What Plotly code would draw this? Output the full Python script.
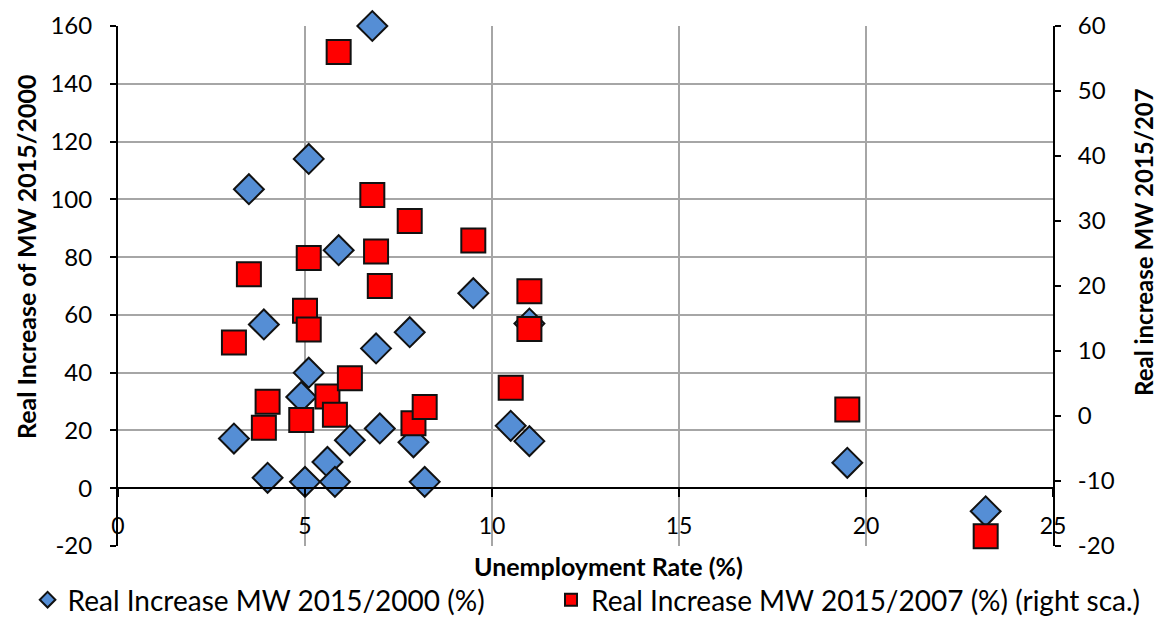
import plotly.graph_objects as go

# Data
unemployment = [3.1, 3.5, 3.9, 4.0, 4.9, 5.0, 5.1, 5.1, 5.6, 5.8, 5.9, 6.2,
                6.8, 6.9, 7.0, 7.8, 7.9, 8.2, 9.5, 10.5, 11.0, 11.0, 19.5, 23.2]
mw_2015_2000 = [17.2, 103.5, 56.7, 3.6, 31.6, 2.2, 114.0, 40.0, 9.1, 2.2, 82.4, 16.6,
                160.0, 48.4, 20.7, 54.0, 15.9, 2.2, 67.5, 21.6, 57.0, 16.3, 8.8, -8.0]
mw_2015_2007 = [11.3, 21.8, -1.8, 2.2, -0.6, 16.2, 24.3, 13.3, 3.0, 0.2, 56.0, 5.8,
                34.0, 25.3, 20.0, 30.0, -1.1, 1.4, 27.0, 4.35, 19.2, 13.4, 1.0, -18.5]

left_ticks = [-20, 0, 20, 40, 60, 80, 100, 120, 140, 160]
left_ticktext = ["-20", "0", "20", "40", "60", "80", "100", "120", "140", "160"]
right_ticks = [-20, -10, 0, 10, 20, 30, 40, 50, 60]
right_ticktext = ["-20", "-10", "0", "10", "20", "30", "40", "50", "60"]

name_blue = "Real Increase MW 2015/2000 (%)"
name_red = "Real Increase MW 2015/2007 (%) (right sca.)"
title_left = "Real Increase of MW 2015/2000"
title_right = "Real increase MW 2015/207"
title_x = "Unemployment Rate (%)"

FONT = "Lato, Carlito, Calibri, sans-serif"
GRID = "#A6A6A6"

fig = go.Figure()
fig.add_trace(go.Scatter(
    x=unemployment, y=mw_2015_2000, mode="markers", name=name_blue,
    cliponaxis=False, legend="legend",
    marker=dict(symbol="diamond", size=23, color="#558ED5",
                line=dict(color="#111111", width=2)),
    yaxis="y", xaxis="x"))
fig.add_trace(go.Scatter(
    x=unemployment, y=mw_2015_2007, mode="markers", name=name_red,
    cliponaxis=False, legend="legend2",
    marker=dict(symbol="square", size=24, color="#FF0000",
                line=dict(color="#111111", width=2)),
    yaxis="y2", xaxis="x"))

legend_style = dict(orientation="h", xref="paper", yref="paper", xanchor="left",
                    y=-0.1038, yanchor="middle", font=dict(size=28, family=FONT),
                    bgcolor="rgba(0,0,0,0)", itemsizing="constant")

fig.update_layout(
    width=1159, height=617,
    margin=dict(l=118, r=106, t=26, b=71, autoexpand=False),
    paper_bgcolor="white", plot_bgcolor="white",
    font=dict(family=FONT, size=22, color="black"),
    showlegend=True,
    legend=dict(x=-0.0967, **legend_style),
    legend2=dict(x=0.4631, **legend_style),
    xaxis=dict(range=[0, 25], dtick=5, anchor="free", position=20 / 180,
               showline=True, linecolor="black", linewidth=2,
               ticks="outside", ticklen=8, tickwidth=2, tickcolor="black",
               showgrid=True, gridcolor=GRID, gridwidth=1.5, zeroline=False,
               tickfont=dict(size=23), ticklabelstandoff=9, automargin=False),
    yaxis=dict(range=[-20, 160], tickmode="array", tickvals=left_ticks,
               ticktext=left_ticktext, showline=True, linecolor="black", linewidth=2,
               ticks="outside", ticklen=6, tickwidth=2, tickcolor="black",
               showgrid=True, gridcolor=GRID, gridwidth=1.5, zeroline=False,
               tickfont=dict(size=24), ticklabelstandoff=13, automargin=False),
    yaxis2=dict(range=[-20, 60], tickmode="array", tickvals=right_ticks,
                ticktext=right_ticktext, overlaying="y", side="right",
                showline=True, linecolor="black", linewidth=2,
                ticks="outside", ticklen=6, tickwidth=2, tickcolor="black",
                showgrid=False, zeroline=False, tickfont=dict(size=24),
                ticklabelstandoff=12, automargin=False),
    annotations=[
        dict(text="<b>" + title_x + "</b>", xref="paper", yref="paper",
             x=0.5246, y=-0.038, showarrow=False, font=dict(size=25),
             xanchor="center", yanchor="middle"),
        dict(text="<b>" + title_left + "</b>", xref="paper", yref="paper",
             x=-0.0984, y=0.5558, showarrow=False, font=dict(size=25),
             textangle=-90, xanchor="center", yanchor="middle"),
        dict(text="<b>" + title_right + "</b>", xref="paper", yref="paper",
             x=1.0962, y=0.5846, showarrow=False, font=dict(size=24),
             textangle=-90, xanchor="center", yanchor="middle"),
    ],
)

fig.write_html("out.html", config={"displayModeBar": False},
               post_script="document.body.style.margin='0';document.body.style.overflow='hidden';")
